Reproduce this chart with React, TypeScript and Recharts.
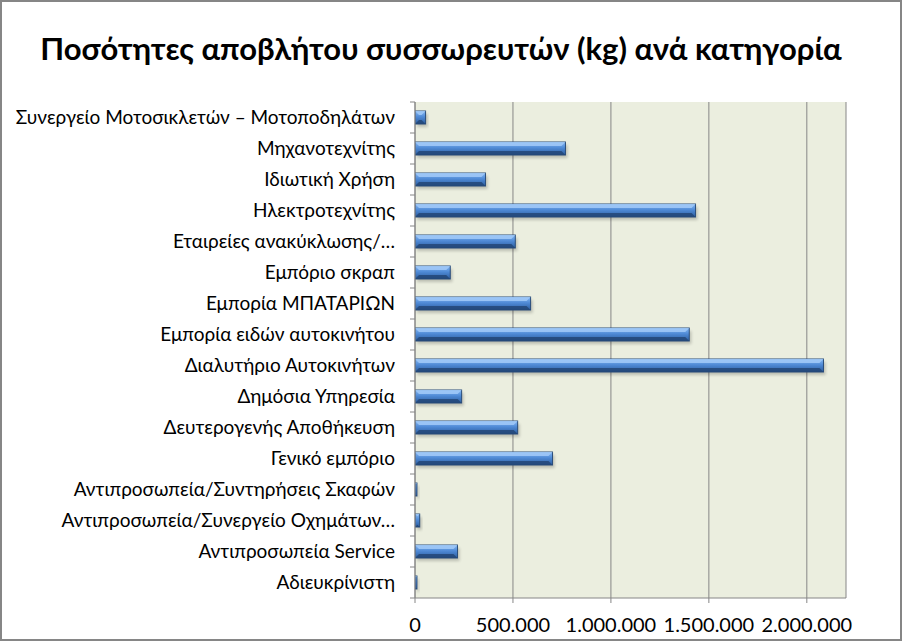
import React from "react";
import { Bar, BarChart, CartesianGrid, XAxis, YAxis } from "recharts";

const categories = [
  "Συνεργείο Μοτοσικλετών – Μοτοποδηλάτων",
  "Μηχανοτεχνίτης",
  "Ιδιωτική Χρήση",
  "Ηλεκτροτεχνίτης",
  "Εταιρείες ανακύκλωσης/…",
  "Εμπόριο σκραπ",
  "Εμπορία ΜΠΑΤΑΡΙΩΝ",
  "Εμπορία ειδών αυτοκινήτου",
  "Διαλυτήριο Αυτοκινήτων",
  "Δημόσια Υπηρεσία",
  "Δευτερογενής Αποθήκευση",
  "Γενικό εμπόριο",
  "Αντιπροσωπεία/Συντηρήσεις Σκαφών",
  "Αντιπροσωπεία/Συνεργείο Οχημάτων…",
  "Αντιπροσωπεία Service",
  "Αδιευκρίνιστη",
];

const quantities = [
  54000, 768000, 360000, 1432000, 512000, 180000, 590000, 1400000, 2085000,
  238000, 524000, 702000, 10000, 24000, 217000, 10000,
];

const xTicks = [0, 500000, 1000000, 1500000, 2000000];

const data = categories.map((name, i) => ({ name, value: quantities[i] }));

const fmt = (v: number) => v.toLocaleString("de-DE");

const FONT = "Lato, 'Open Sans', sans-serif";
const AXIS_X = 415;

function CategoryTick(props: any) {
  const { y, payload } = props;
  const half = 31 / 2;
  return (
    <g>
      <text
        x={AXIS_X - 20}
        y={y}
        dy={6}
        textAnchor="end"
        fontSize={19}
        fontFamily={FONT}
        fill="#000"
      >
        {payload.value}
      </text>
      <line x1={AXIS_X - 5} x2={AXIS_X} y1={y - half} y2={y - half} stroke="#868686" />
      {payload.index === categories.length - 1 && (
        <line x1={AXIS_X - 5} x2={AXIS_X} y1={y + half} y2={y + half} stroke="#868686" />
      )}
    </g>
  );
}

function BevelBar(props: any) {
  const { x, y, width, height } = props;
  if (width <= 0) return null;
  const b = Math.min(4, width / 2);
  return (
    <g>
      <rect x={x + 2} y={y + 3} width={width} height={height} fill="#000" opacity={0.2} filter="url(#shadowBlur)" />
      <rect x={x} y={y} width={width} height={height} fill="url(#barGrad)" stroke="#2a4d7a" strokeWidth={1} />
      <polygon
        points={`${x},${y} ${x + width},${y} ${x + width - b},${y + b} ${x + b},${y + b}`}
        fill="#9fc8f7"
        opacity={0.9}
      />
      <polygon
        points={`${x},${y + height} ${x + width},${y + height} ${x + width - b},${y + height - b} ${x + b},${y + height - b}`}
        fill="#234777"
        opacity={0.85}
      />
    </g>
  );
}

export default function App() {
  return (
    <div style={{ position: "relative", width: 902, height: 641, background: "#fff", boxSizing: "border-box", border: "2px solid #868686" }}>
      <style>{`body{margin:0}`}</style>
      <div
        style={{
          position: "absolute",
          top: 27,
          left: -10,
          width: 898,
          textAlign: "center",
          fontFamily: FONT,
          fontWeight: 700,
          fontSize: 31,
          color: "#000",
        }}
      >
        Ποσότητες αποβλήτου συσσωρευτών (kg) ανά κατηγορία
      </div>
      <div style={{ position: "absolute", top: -2, left: -2 }}>
        <BarChart
          layout="vertical"
          width={902}
          height={641}
          data={data}
          margin={{ top: 102, right: 56, bottom: 13, left: 0 }}
          barCategoryGap={0}
        >
          <defs>
            <linearGradient id="barGrad" x1="0" y1="0" x2="0" y2="1">
              <stop offset="0%" stopColor="#86b8f2" />
              <stop offset="45%" stopColor="#4f8ad6" />
              <stop offset="100%" stopColor="#2c5d9f" />
            </linearGradient>
            <filter id="shadowBlur" x="-10%" y="-50%" width="120%" height="200%">
              <feGaussianBlur stdDeviation="1.5" />
            </filter>
          </defs>
          <CartesianGrid
            horizontal={false}
            vertical
            stroke="#868686"
            fill="#ebeedf"
            fillOpacity={1}
          />
          <XAxis
            type="number"
            domain={[0, 2200000]}
            ticks={xTicks}
            tickFormatter={fmt}
            allowDataOverflow
            height={30}
            stroke="#868686"
            tickSize={5}
            tick={{ fontSize: 20, fill: "#000", fontFamily: FONT }}
            tickMargin={15}
          />
          <YAxis
            type="category"
            dataKey="name"
            width={AXIS_X}
            stroke="#868686"
            tickLine={false}
            tickSize={0}
            interval={0}
            tick={<CategoryTick />}
          />
          <Bar dataKey="value" barSize={13} shape={<BevelBar />} isAnimationActive={false} />
        </BarChart>
      </div>
    </div>
  );
}
